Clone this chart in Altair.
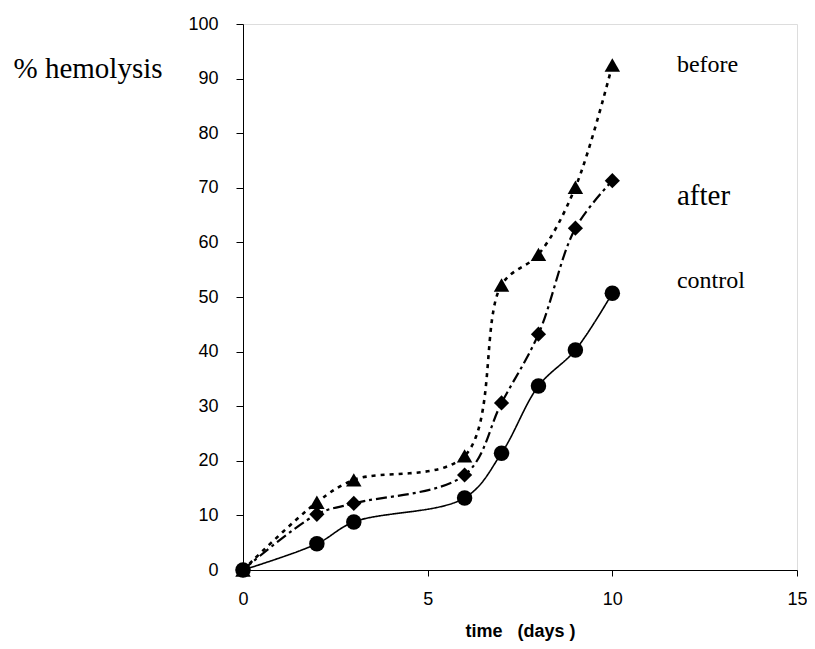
import altair as alt
import pandas as pd

days = [0, 2, 3, 6, 7, 8, 9, 10]
before = [0, 12.4, 16.5, 20.9, 52.2, 57.8, 70.1, 92.5]
after = [0, 10.2, 12.2, 17.4, 30.6, 43.2, 62.6, 71.3]
control = [0, 4.8, 8.8, 13.2, 21.4, 33.7, 40.3, 50.7]

label_names = ["before", "after", "control"]
label_x = [11.75, 11.75, 11.75]
label_y = [91.2, 66.8, 51.6]
label_sizes = [24, 29, 24]

xscale = alt.Scale(domain=[0, 15], nice=False)
yscale = alt.Scale(domain=[0, 100], nice=False)

xaxis = alt.Axis(values=[0, 5, 10, 15], title="time\u00a0\u00a0\u00a0(days\u00a0)", grid=False,
                 domainColor="black", tickColor="black", tickSize=6, labelFlush=False,
                 labelFont="Liberation Sans", labelFontSize=18, labelColor="black",
                 labelPadding=14, titleFont="Liberation Sans", titleFontSize=18,
                 titleFontWeight="bold", titleColor="black",
                 titleBaseline="alphabetic", titleY=66)
yaxis = alt.Axis(values=list(range(0, 101, 10)), title="% hemolysis", grid=False,
                 domainColor="black", tickColor="black", tickSize=7, labelFlush=False,
                 labelFont="Liberation Sans", labelFontSize=18, labelColor="black",
                 labelPadding=18, titleFont="Liberation Serif", titleFontSize=29,
                 titleFontWeight="normal", titleColor="black", titleAngle=0,
                 titleAlign="left", titleBaseline="alphabetic", titleX=-230, titleY=53)


def series(vals, shape, size, dash, width):
    df = pd.DataFrame({"day": days, "value": vals})
    base = alt.Chart(df)
    line = base.mark_line(color="black", strokeWidth=width, strokeDash=dash,
                          interpolate="catmull-rom").encode(
        x=alt.X("day:Q", scale=xscale, axis=xaxis),
        y=alt.Y("value:Q", scale=yscale, axis=yaxis),
    )
    pts = base.mark_point(shape=shape, size=size, filled=True, color="black",
                          opacity=1).encode(
        x=alt.X("day:Q", scale=xscale),
        y=alt.Y("value:Q", scale=yscale),
    )
    return line + pts


c_control = series(control, "circle", 240, [1, 0], 1.6)
c_after = series(after, "diamond", 230, [11, 4, 3, 4], 2.2)
c_before = series(before, "triangle-up", 240, [4, 5], 2.6)

labels_df = pd.DataFrame({"name": label_names, "x": label_x, "y": label_y,
                          "size": label_sizes})
labels = alt.Chart(labels_df).mark_text(align="left", baseline="alphabetic",
                                        font="Liberation Serif", color="black").encode(
    x=alt.X("x:Q", scale=xscale),
    y=alt.Y("y:Q", scale=yscale),
    text="name:N",
    size=alt.Size("size:Q", scale=None, legend=None),
)

chart = alt.layer(c_control, c_after, c_before, labels).properties(
    width=554, height=546,
    autosize=alt.AutoSizeParams(type="none"),
    padding={"left": 235, "top": 16, "right": 10, "bottom": 71},
).configure_view(stroke="#888888", strokeWidth=1.5).configure(background="white")

chart.save("out.html", embed_options={"renderer": "svg", "actions": False})
